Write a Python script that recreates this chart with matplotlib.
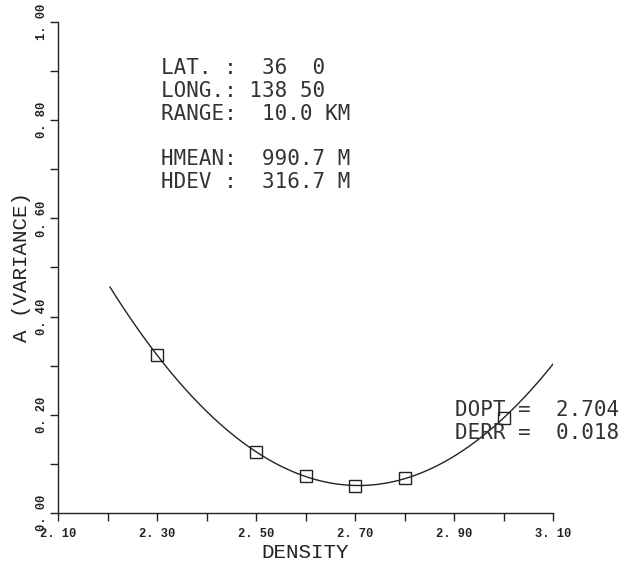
import numpy as np
import matplotlib
matplotlib.use('Agg')
import matplotlib.pyplot as plt
from matplotlib.ticker import MultipleLocator

# measured points (density, variance)
density = [2.30, 2.50, 2.60, 2.70, 2.80, 3.00]
variance = [0.322, 0.124, 0.075, 0.055, 0.071, 0.193]

# fitted curve is drawn over this density range
curve_start = 2.205
curve_end = 3.105

xtick_values = [2.10, 2.30, 2.50, 2.70, 2.90, 3.10]
xtick_labels = ["2. 10", "2. 30", "2. 50", "2. 70", "2. 90", "3. 10"]
ytick_values = [0.00, 0.20, 0.40, 0.60, 0.80, 1.00]
ytick_labels = ["0. 00", "0. 20", "0. 40", "0. 60", "0. 80", "1. 00"]

info_names = ["LAT. :", "LONG.:", "RANGE:", "", "HMEAN:", "HDEV :"]
info_values = ["  36  0", " 138 50", "  10.0 KM", "", "  990.7 M", "  316.7 M"]
result_names = ["DOPT =", "DERR ="]
result_values = ["  2.704", "  0.018"]

fig = plt.figure(figsize=(6.2, 5.65), dpi=100)
ax = fig.add_axes([58 / 620, 52 / 565, 495 / 620, 491 / 565])

# quadratic fit through the points, as the original plot does
coef = np.polyfit(density, variance, 2)
cx = np.linspace(curve_start, curve_end, 300)
ax.plot(cx, np.polyval(coef, cx), color='#222222', lw=1.0)
ax.plot(density, variance, 's', ms=8, mfc='none', mec='#222222', mew=1.0)

ax.set_xlim(2.10, 3.10)
ax.set_ylim(0.0, 1.0)
ax.spines['top'].set_visible(False)
ax.spines['right'].set_visible(False)
for s in ['left', 'bottom']:
    ax.spines[s].set_linewidth(1.0)
    ax.spines[s].set_color('#222222')

ax.set_xticks(xtick_values)
ax.set_xticklabels(xtick_labels, fontfamily='Liberation Mono', fontweight='bold',
                   fontsize=8.7, color='#222222')
ax.set_yticks(ytick_values)
ax.set_yticklabels(ytick_labels, fontfamily='Liberation Mono', fontweight='bold',
                   fontsize=8.7, color='#222222', rotation=90, va='center')
ax.xaxis.set_minor_locator(MultipleLocator(0.1))
ax.yaxis.set_minor_locator(MultipleLocator(0.1))
ax.tick_params(which='both', direction='out', length=6, width=1.0, color='#222222')
ax.tick_params(axis='x', pad=5)
ax.tick_params(axis='y', pad=1)

ax.set_xlabel("DENSITY", fontfamily='Liberation Mono', fontsize=15, color='#222222',
              labelpad=2)
ax.set_ylabel("A (VARIANCE)", fontfamily='Liberation Mono', fontsize=15, color='#222222',
              labelpad=4)

# station info block
row = 0
for name, val in zip(info_names, info_values):
    if name:
        ax.text(2.308, 0.906 - row * 0.0465, name + val, fontfamily='DejaVu Sans Mono',
                fontsize=15, color='#333333', va='center', ha='left')
    row += 1

for i, (name, val) in enumerate(zip(result_names, result_values)):
    ax.text(2.902, 0.210 - i * 0.047, name + val, fontfamily='DejaVu Sans Mono',
            fontsize=15, color='#333333', va='center', ha='left')

plt.savefig('out.png', dpi=100)
